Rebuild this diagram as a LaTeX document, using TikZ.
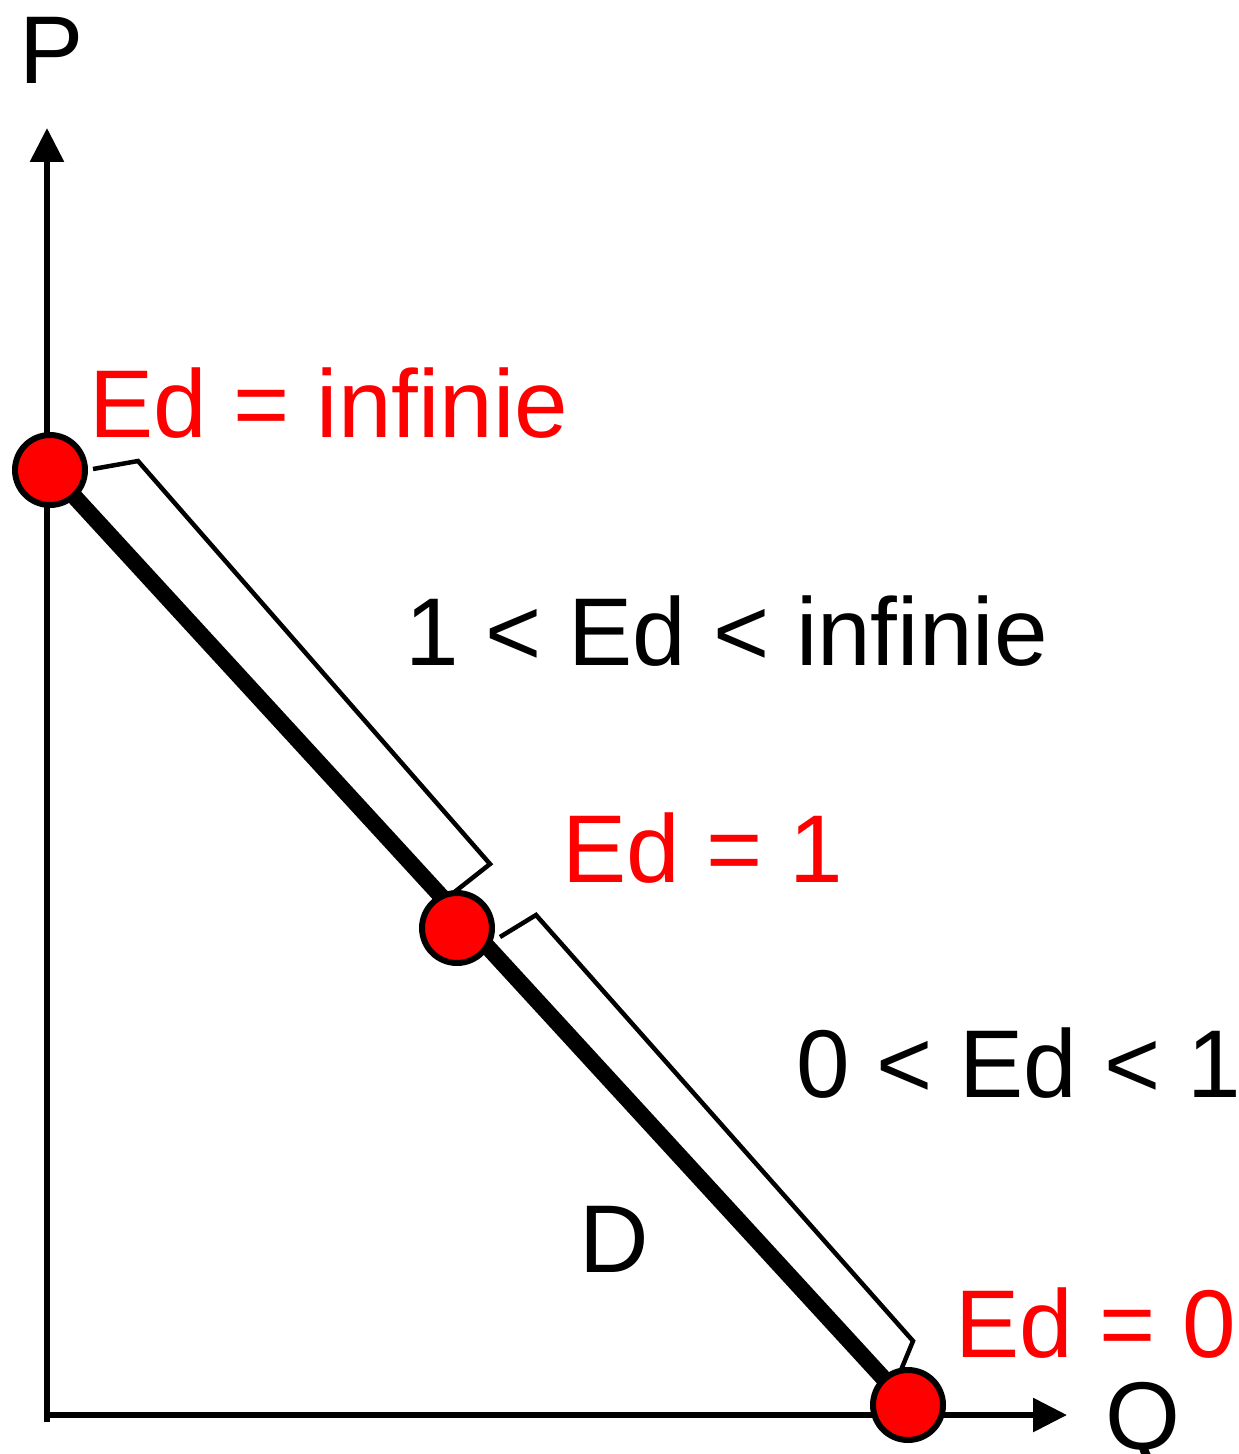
\documentclass[tikz,border=0pt]{standalone}
\usepackage{fontspec}
\setmainfont{Liberation Sans}
\usetikzlibrary{arrows.meta}

\begin{document}
\begin{tikzpicture}[
x=0.02cm, y=-0.02cm,
lbl/.style={
anchor=base west,
inner sep=0pt,
font=\fontsize{54.8}{60}\selectfont
},
redlbl/.style={lbl, text=red},
dot/.style={
circle,
draw,
fill=red,
line width=0.12cm,
minimum size=1.4cm,
inner sep=0pt
},
axis/.style={line width=0.12cm, -{Triangle[width=0.66cm,length=0.68cm]}},
brk/.style={line width=0.09cm, line join=miter}
]
\useasboundingbox (0,0) rectangle (1238,1454);

% axes
\coordinate (origin) at (47,1415);
\coordinate (ptop) at (47,128);
\coordinate (qend) at (1067,1415);
\draw[axis] (47,1422) -- (ptop);
\draw[axis] (44,1415) -- (qend);
\node[lbl, anchor=base] (plabel) at (52,83) {P};
\node[lbl, anchor=base] (qlabel) at (1143,1449) {Q};

% demand curve
\coordinate (a) at (50,470);
\coordinate (b) at (457,928);
\coordinate (c) at (908,1405);
\draw[line width=0.33cm] (a) -- (c);

% brackets
\draw[brk] (93,469) -- (138,461) -- (490,864) -- (452,894);
\draw[brk] (500,937) -- (536,915) -- (913,1341) -- (901,1370);

\node[dot] (pinf) at (a) {};
\node[dot] (punit) at (b) {};
\node[dot] (pzero) at (c) {};

\node[redlbl] (linf) at (89,437) {Ed = infinie};
\node[lbl] (lhigh) at (405,665) {1 < Ed < infinie};
\node[redlbl] (lunit) at (562,882) {Ed = 1};
\node[lbl] (llow) at (796,1097) {0 < Ed < 1};
\node[lbl] (ldem) at (579,1272) {D};
\node[redlbl] (lzero) at (955,1357) {Ed = 0};

\end{tikzpicture}
\end{document}
